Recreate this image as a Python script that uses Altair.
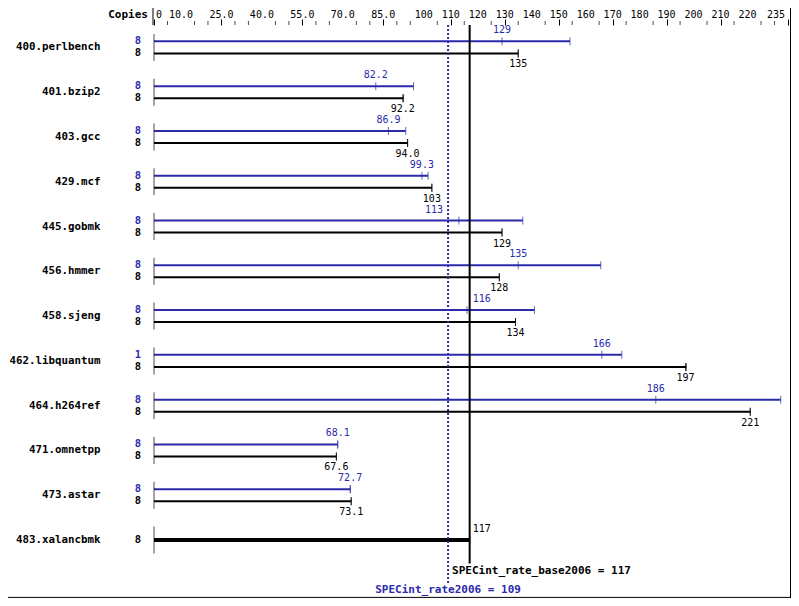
import altair as alt
import pandas as pd

# ---------------- data ----------------
benchmarks = ["400.perlbench", "401.bzip2", "403.gcc", "429.mcf", "445.gobmk",
              "456.hmmer", "458.sjeng", "462.libquantum", "464.h264ref",
              "471.omnetpp", "473.astar", "483.xalancbmk"]
base_copies = [8, 8, 8, 8, 8, 8, 8, 8, 8, 8, 8, 8]
base_ratio = [135, 92.2, 94.0, 103, 129, 128, 134, 197, 221, 67.6, 73.1, 117]
base_max = [135, 92.5, 94.0, 103, 129, 128, 134, 197.3, 221, 67.6, 73.1, 117]
peak_copies = [8, 8, 8, 8, 8, 8, 8, 1, 8, 8, 8, None]
peak_ratio = [129, 82.2, 86.9, 99.3, 113, 135, 116, 166, 186, 68.1, 72.7, None]
peak_max = [154.2, 96.2, 93.3, 101.6, 136.7, 165.6, 141.0, 173.4, 232.3, 68.1, 72.8, None]

base_score = 117
peak_score = 109
axis_labels = [0, 10, 25, 40, 55, 70, 85, 100, 110, 120, 130, 140, 150, 160,
               170, 180, 190, 200, 210, 220, 235]
minor_ticks = [v for v in range(5, 235, 5) if v not in axis_labels]

# ---------------- table ----------------
rows = []
for i, b in enumerate(benchmarks):
    if peak_ratio[i] is None:
        rows.append(dict(bench=b, series="single", copies=base_copies[i],
                         ratio=base_ratio[i], top=base_max[i]))
    else:
        rows.append(dict(bench=b, series="peak", copies=peak_copies[i],
                         ratio=peak_ratio[i], top=peak_max[i]))
        rows.append(dict(bench=b, series="base", copies=base_copies[i],
                         ratio=base_ratio[i], top=base_max[i]))
df = pd.DataFrame(rows)
bench_df = pd.DataFrame({"bench": benchmarks})
tick_df = pd.DataFrame({"v": axis_labels})
one = pd.DataFrame({"k": [0]})

W = 634
H = 537.4
BLUE = "#2a2aaa"
MONO = "DejaVu Sans Mono"
SERIES = ["peak", "single", "base"]
# sub-row slots inside each benchmark band (outer slots are empty spacers)
SLOTS = ["s1", "s2", "peak", "single", "base", "s3", "s4"]

xscale = alt.Scale(domain=[0, 235], nice=False, zero=True)
xaxis = alt.Axis(orient="top", title=None, values=axis_labels, grid=False, domain=False,
                 tickSize=6, tickColor="black", labels=False)
y_enc = alt.Y("bench:N", sort=benchmarks, scale=alt.Scale(paddingInner=0, paddingOuter=0),
              axis=alt.Axis(title=None, ticks=False, domain=False, tickSize=0, labelPadding=54,
                            labelFont=MONO, labelFontSize=10.8, labelFontWeight="bold",
                            labelColor="black", labelAlign="right"))
yoff = alt.YOffset("series:N", scale=alt.Scale(domain=SLOTS, paddingInner=0, paddingOuter=0.22))
color = alt.Color("series:N", scale=alt.Scale(domain=SERIES, range=[BLUE, "black", "black"]), legend=None)

base = alt.Chart(df).transform_calculate(
    origin="0",
    label="format(datum.ratio, '.3r')",
    place=f"abs(datum.ratio - {base_score}) < 2.5 ? 'after_base' : "
          f"((abs(datum.ratio - {peak_score}) < 6 && datum.series == 'peak') ? 'before_peak' : 'center')",
)

bars = base.transform_filter("datum.series != 'single'").mark_rule(strokeWidth=2).encode(
    x=alt.X("origin:Q", scale=xscale, axis=xaxis), x2="top:Q",
    y=y_enc, yOffset=yoff, color=color)
bars_single = base.transform_filter("datum.series == 'single'").mark_rule(strokeWidth=4).encode(
    x=alt.X("origin:Q", scale=xscale, axis=xaxis), x2="top:Q",
    y=y_enc, yOffset=yoff, color=color)

med_ticks = base.mark_tick(orient="vertical", size=8, thickness=1).encode(
    x=alt.X("ratio:Q", scale=xscale, axis=xaxis), y=y_enc, yOffset=yoff, color=color)
end_ticks = base.mark_tick(orient="vertical", size=8, thickness=1).encode(
    x=alt.X("top:Q", scale=xscale, axis=xaxis), y=y_enc, yOffset=yoff, color=color)

copies = base.mark_text(font=MONO, fontSize=10.5, fontWeight="bold", align="center",
                        baseline="middle").encode(
    x=alt.value(-16), y=y_enc, yOffset=yoff, color=color, text=alt.Text("copies:Q", format="d"))

lab_kw = dict(font=MONO, fontSize=10, baseline="middle")
lab_center_above = base.transform_filter("datum.place == 'center' && datum.series != 'base'").mark_text(
    dy=-11, align="center", **lab_kw).encode(
    x=alt.X("ratio:Q", scale=xscale, axis=xaxis), y=y_enc, yOffset=yoff, color=color, text="label:N")
lab_center_below = base.transform_filter("datum.place == 'center' && datum.series == 'base'").mark_text(
    dy=11, align="center", **lab_kw).encode(
    x=alt.X("ratio:Q", scale=xscale, axis=xaxis), y=y_enc, yOffset=yoff, color=color, text="label:N")
lab_before_peak = base.transform_filter("datum.place == 'before_peak'").mark_text(
    dy=-11, dx=-5, align="right", **lab_kw).encode(
    x=alt.datum(peak_score), y=y_enc, yOffset=yoff, color=color, text="label:N")
lab_after_base = base.transform_filter("datum.place == 'after_base'").mark_text(
    dy=-11, dx=3, align="left", **lab_kw).encode(
    x=alt.datum(base_score), y=y_enc, yOffset=yoff, color=color, text="label:N")

row_ticks = alt.Chart(bench_df).mark_tick(orient="vertical", size=27, thickness=1, color="black").encode(
    x=alt.datum(0), y=y_enc)

minor = alt.Chart(pd.DataFrame({"v": minor_ticks})).mark_tick(
    orient="vertical", size=4, thickness=1, color="black").encode(
    x=alt.X("v:Q", scale=xscale, axis=xaxis), y=alt.value(-2))

# top scale labels (first flush left, last flush right)
tick_base = alt.Chart(tick_df).transform_calculate(
    txt="datum.v == 0 ? '0' : (datum.v < 100 ? format(datum.v, '.1f') : format(datum.v, 'd'))")
tk_kw = dict(font=MONO, fontSize=10, baseline="alphabetic", color="black")
tick_mid = tick_base.transform_filter("datum.v > 0 && datum.v < 235").mark_text(
    align="center", **tk_kw).encode(x=alt.X("v:Q", scale=xscale, axis=xaxis), y=alt.value(-7), text="txt:N")
tick_first = tick_base.transform_filter("datum.v == 0").mark_text(
    align="left", dx=2, **tk_kw).encode(x=alt.X("v:Q", scale=xscale, axis=xaxis), y=alt.value(-7), text="txt:N")
tick_last = tick_base.transform_filter("datum.v == 235").mark_text(
    align="right", dx=-3, **tk_kw).encode(x=alt.X("v:Q", scale=xscale, axis=xaxis), y=alt.value(-7), text="txt:N")

ref_base = alt.Chart(one).mark_rule(color="black", strokeWidth=2).encode(
    x=alt.datum(base_score), y=alt.value(0), y2=alt.value(H + 1))
ref_peak = alt.Chart(one).mark_rule(color=BLUE, strokeWidth=2, strokeDash=[2, 2]).encode(
    x=alt.datum(peak_score), y=alt.value(0), y2=alt.value(H + 21))

txt_base = alt.Chart(one).mark_text(text=f"SPECint_rate_base2006 = {base_score}", font=MONO,
                                    fontSize=11, fontWeight="bold", align="left",
                                    baseline="middle", color="black", dx=4).encode(
    x=alt.datum(peak_score), y=alt.value(H + 9))
txt_peak = alt.Chart(one).mark_text(text=f"SPECint_rate2006 = {peak_score}", font=MONO,
                                    fontSize=11, fontWeight="bold", align="center",
                                    baseline="middle", color=BLUE).encode(
    x=alt.datum(peak_score), y=alt.value(H + 28))

copies_title = alt.Chart(one).mark_text(text="Copies", font=MONO, fontSize=11,
                                        fontWeight="bold", align="right",
                                        baseline="alphabetic", color="black").encode(
    x=alt.value(-6), y=alt.value(-7))
sep = alt.Chart(one).mark_rule(color="black", strokeWidth=1).encode(
    x=alt.value(-1), y=alt.value(-17), y2=alt.value(0))
frame_r = alt.Chart(one).mark_rule(color="black", strokeWidth=1).encode(
    x=alt.value(W + 2.5), y=alt.value(-17), y2=alt.value(H + 36))
frame_b = alt.Chart(one).mark_rule(color="black", strokeWidth=1).encode(
    x=alt.value(-146), x2=alt.value(W + 3), y=alt.value(H + 35))

chart = alt.layer(
    bars, bars_single, ref_peak, ref_base, med_ticks, end_ticks, row_ticks, minor, copies,
    lab_center_above, lab_center_below, lab_before_peak, lab_after_base,
    tick_mid, tick_first, tick_last,
    txt_base, txt_peak, copies_title, sep, frame_r, frame_b,
).properties(
    width=W, height=H,
    padding={"left": 146, "right": 3, "top": 17, "bottom": 35.6},
    autosize=alt.AutoSizeParams(type="none"),
    background="white",
).configure_view(stroke=None)

chart.save("out.html", embed_options={"renderer": "svg", "actions": False})
